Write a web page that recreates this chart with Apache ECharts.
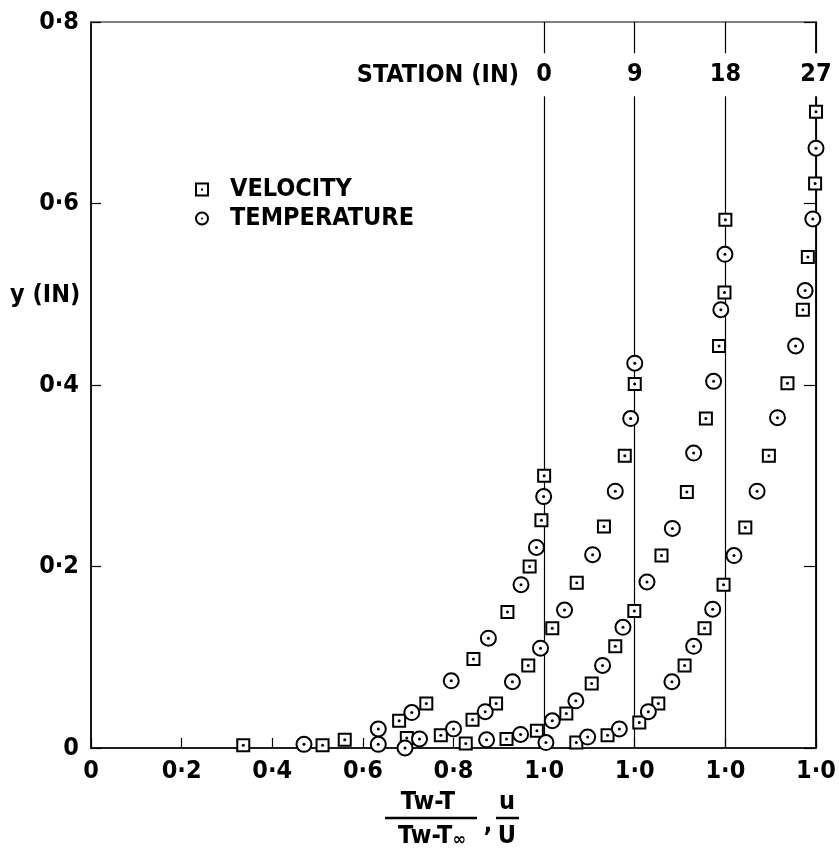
<!DOCTYPE html>
<html>
<head>
<meta charset="utf-8">
<script src="https://cdn.jsdelivr.net/npm/echarts@6/dist/echarts.min.js"></script>
<style>
  html, body { margin: 0; padding: 0; background: #fff; }
  #chart { width: 839px; height: 852px; }
</style>
</head>
<body>
<div id="chart"></div>
<script>
// Measuring stations along the plate (in); each profile is drawn on its own
// abscissa whose origin is shifted so that its u/U = 1 line sits 0.2 further right.
const stations = ['0', '9', '18', '27'];
const stationShift = [0, 0.2, 0.4, 0.6];

// Velocity profiles: [u/U, y (in)]
const velocity0 = [[0.336,0.003],[0.511,0.003],[0.560,0.009],[0.680,0.030],[0.740,0.049],[0.844,0.098],[0.919,0.150],[0.968,0.200],[0.994,0.251],[1.000,0.300]];
const velocity9 = [[0.497,0.011],[0.572,0.014],[0.642,0.031],[0.694,0.049],[0.765,0.091],[0.818,0.132],[0.872,0.182],[0.932,0.244],[0.978,0.322],[1.000,0.401]];
const velocity18 = [[0.427,0.005],[0.517,0.010],[0.584,0.019],[0.649,0.038],[0.705,0.071],[0.757,0.112],[0.799,0.151],[0.859,0.212],[0.915,0.282],[0.957,0.363],[0.986,0.443],[0.998,0.502],[1.000,0.582]];
const velocity27 = [[0.471,0.006],[0.540,0.014],[0.610,0.028],[0.652,0.049],[0.710,0.091],[0.754,0.132],[0.796,0.180],[0.844,0.243],[0.896,0.322],[0.937,0.402],[0.971,0.483],[0.982,0.541],[0.998,0.622],[1.000,0.701]];

// Temperature profiles: [(Tw-T)/(Tw-T∞), y (in)]
const temperature0 = [[0.470,0.004],[0.634,0.021],[0.708,0.039],[0.795,0.074],[0.877,0.121],[0.949,0.180],[0.983,0.221],[0.999,0.277]];
const temperature9 = [[0.434,0.004],[0.493,0.000],[0.525,0.010],[0.600,0.021],[0.670,0.040],[0.730,0.073],[0.792,0.110],[0.845,0.152],[0.907,0.213],[0.957,0.283],[0.991,0.363],[1.000,0.424]];
const temperature18 = [[0.473,0.009],[0.548,0.015],[0.618,0.030],[0.670,0.052],[0.729,0.091],[0.774,0.133],[0.827,0.183],[0.883,0.242],[0.930,0.325],[0.974,0.404],[0.990,0.483],[0.999,0.544]];
const temperature27 = [[0.404,0.006],[0.496,0.012],[0.566,0.021],[0.630,0.040],[0.682,0.073],[0.730,0.112],[0.772,0.153],[0.819,0.212],[0.870,0.283],[0.915,0.364],[0.955,0.443],[0.976,0.504],[0.993,0.583],[1.000,0.661]];

const velocityProfiles = [velocity0, velocity9, velocity18, velocity27];
const temperatureProfiles = [temperature0, temperature9, temperature18, temperature27];

// Tick labels
const xTickLabels = ['0', '0·2', '0·4', '0·6', '0·8', '1·0', '1·0', '1·0', '1·0'];
const yTickLabels = ['0', '0·2', '0·4', '0·6', '0·8'];

// Height at which the station numbers are written across the u/U = 1 lines
const stationLabelY = 0.742;

const FONT = "'Liberation Sans Narrow', 'DejaVu Sans Condensed', 'Arial Narrow', 'Liberation Sans', sans-serif";
const FS = 25;
const INK = '#000';

const squareIcon = 'path://M0,0H14V14H0Z M2,2V12H12V2Z M6,6H8V8H6Z';
const circleIcon = 'path://M0,7a7,7 0 1,0 14,0a7,7 0 1,0 -14,0Z M2,7a5,5 0 1,1 10,0a5,5 0 1,1 -10,0Z M6,7a1,1 0 1,0 2,0a1,1 0 1,0 -2,0Z';

const chart = echarts.init(document.getElementById('chart'), null, { renderer: 'canvas' });

// Main abscissa carries the labels; one hidden abscissa per station shifts its origin
const xAxes = stations.map((s, i) => {
  if (i === 0) {
    return {
      type: 'value', min: 0, max: 1.6, interval: 0.2,
      axisLine: { show: true, onZero: false, lineStyle: { color: INK, width: 1.5 } },
      axisTick: { show: true, inside: true, length: 10, lineStyle: { color: INK, width: 1.2 } },
      axisLabel: {
        margin: 11, color: INK, fontSize: FS, fontWeight: 'bold', fontFamily: FONT,
        formatter: (v, idx) => xTickLabels[idx]
      },
      splitLine: { show: false }
    };
  }
  return { type: 'value', min: -stationShift[i], max: 1.6 - stationShift[i], show: false };
});

const series = [];
stations.forEach((name, i) => {
  // station number written across its u/U = 1 reference line
  series.push({
    type: 'scatter', xAxisIndex: i, z: 6, silent: true,
    data: [[1.0, stationLabelY]],
    symbolSize: 1, itemStyle: { color: 'rgba(0,0,0,0)', opacity: 1 },
    label: {
      show: true, position: 'inside', formatter: name,
      color: INK, fontSize: FS, fontWeight: 'bold', fontFamily: FONT,
      backgroundColor: '#fff', padding: [9, 3]
    },
    markLine: {
      z: 1, silent: true, symbol: 'none',
      label: { show: false },
      lineStyle: { color: INK, width: 1.2, type: 'solid' },
      emphasis: { disabled: true },
      data: [{ xAxis: 1.0 }]
    }
  });
  series.push({
    name: 'VELOCITY', type: 'scatter', xAxisIndex: i, z: 3,
    data: velocityProfiles[i], symbol: 'rect', symbolSize: 12,
    itemStyle: { color: '#fff', borderColor: INK, borderWidth: 2, opacity: 1 }
  });
  series.push({
    name: 'TEMPERATURE', type: 'scatter', xAxisIndex: i, z: 3,
    data: temperatureProfiles[i], symbol: 'circle', symbolSize: 15,
    itemStyle: { color: '#fff', borderColor: INK, borderWidth: 2, opacity: 1 }
  });
  // centre dots of the plotted symbols
  series.push({
    type: 'scatter', xAxisIndex: i, z: 4, silent: true,
    data: velocityProfiles[i].concat(temperatureProfiles[i]),
    symbol: 'circle', symbolSize: 3, itemStyle: { color: INK, opacity: 1 }
  });
});

const option = {
  backgroundColor: '#fff',
  animation: false,
  grid: { left: 91, right: 23, top: 22, bottom: 104, show: true, borderColor: INK, borderWidth: 1.2, backgroundColor: 'transparent' },
  xAxis: xAxes,
  yAxis: [
    {
      type: 'value', min: 0, max: 0.8, interval: 0.2,
      axisLine: { show: true, onZero: false, lineStyle: { color: INK, width: 1.5 } },
      axisTick: { show: true, inside: true, length: 10, lineStyle: { color: INK, width: 1.2 } },
      axisLabel: {
        margin: 12, color: INK, fontSize: FS, fontWeight: 'bold', fontFamily: FONT,
        formatter: (v, idx) => yTickLabels[idx]
      },
      splitLine: { show: false }
    },
    {
      type: 'value', min: 0, max: 0.8, interval: 0.2, position: 'right',
      axisLine: { show: true, onZero: false, lineStyle: { color: INK, width: 1.5 } },
      axisTick: { show: true, inside: true, length: 12, lineStyle: { color: INK, width: 1.2 } },
      axisLabel: { show: false },
      splitLine: { show: false }
    }
  ],
  legend: {
    orient: 'vertical', left: 190, top: 172, itemWidth: 14, itemHeight: 14, itemGap: 4,
    selectedMode: false,
    data: [
      { name: 'VELOCITY', icon: squareIcon, itemStyle: { color: INK, borderWidth: 0 } },
      { name: 'TEMPERATURE', icon: circleIcon, itemStyle: { color: INK, borderWidth: 0 } }
    ],
    formatter: n => '{t|' + n + '}',
    textStyle: {
      rich: { t: { fontSize: FS, fontWeight: 'bold', fontFamily: FONT, color: INK, lineHeight: 30, padding: [0, 0, 0, 16] } }
    }
  },
  graphic: [
    { type: 'text', left: 10, top: 283, style: { text: 'y (IN)', font: 'bold ' + FS + 'px ' + FONT, fill: INK } },
    { type: 'text', x: 519, y: 75, style: { text: 'STATION (IN)', font: 'bold ' + FS + 'px ' + FONT, fill: INK, textAlign: 'right', textVerticalAlign: 'middle' } },
    // abscissa title: (Tw - T)/(Tw - T∞), u/U
    { type: 'text', x: 428, y: 802, style: { text: 'Tw-T', font: 'bold 25px ' + FONT, fill: INK, textAlign: 'center', textVerticalAlign: 'middle' } },
    { type: 'line', shape: { x1: 385, y1: 818, x2: 477, y2: 818 }, style: { stroke: INK, lineWidth: 2.5 } },
    { type: 'text', x: 432, y: 836, style: {
        text: '{a|Tw-T}{b|∞}', fill: INK, textAlign: 'center', textVerticalAlign: 'middle',
        rich: { a: { font: 'bold 25px ' + FONT, fill: INK }, b: { font: 'bold 18px ' + FONT, fill: INK, verticalAlign: 'bottom', padding: [8, 0, 0, 0] } }
      } },
    { type: 'text', x: 488, y: 824, style: { text: ',', font: 'bold 25px ' + FONT, fill: INK, textAlign: 'center', textVerticalAlign: 'middle' } },
    { type: 'text', x: 507, y: 802, style: { text: 'u', font: 'bold 25px ' + FONT, fill: INK, textAlign: 'center', textVerticalAlign: 'middle' } },
    { type: 'line', shape: { x1: 496, y1: 818, x2: 519, y2: 818 }, style: { stroke: INK, lineWidth: 2.5 } },
    { type: 'text', x: 507, y: 836, style: { text: 'U', font: 'bold 25px ' + FONT, fill: INK, textAlign: 'center', textVerticalAlign: 'middle' } }
  ],
  series: series
};

chart.setOption(option);
</script>
</body>
</html>
